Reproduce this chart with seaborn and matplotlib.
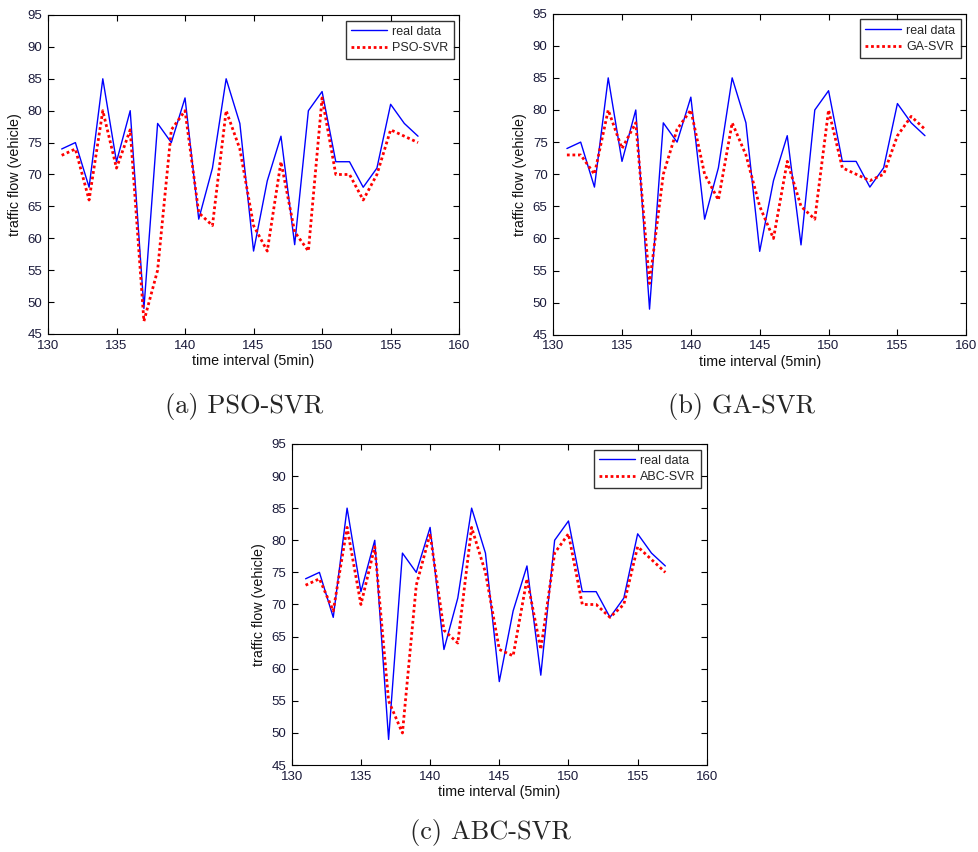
import numpy as np
import pandas as pd
import matplotlib
matplotlib.use("Agg")
import matplotlib.pyplot as plt
import seaborn as sns

# ---- data ----
time_interval = [131, 132, 133, 134, 135, 136, 137, 138, 139, 140, 141, 142, 143, 144,
                 145, 146, 147, 148, 149, 150, 151, 152, 153, 154, 155, 156, 157]
real_data = [74, 75, 68, 85, 72, 80, 49, 78, 75, 82, 63, 71, 85, 78,
             58, 69, 76, 59, 80, 83, 72, 72, 68, 71, 81, 78, 76]
pso_svr = [73, 74, 66, 80, 71, 77, 47, 55, 77, 80, 64, 62, 80, 74,
           62, 58, 72, 61, 58, 82, 70, 70, 66, 70, 77, 76, 75]
ga_svr = [73, 73, 70, 80, 74, 78, 53, 70, 77, 80, 70, 66, 78, 73,
          65, 60, 72, 65, 63, 80, 71, 70, 69, 70, 76, 79, 77]
abc_svr = [73, 74, 69, 82, 70, 79, 55, 50, 73, 81, 66, 64, 82, 75,
           63, 62, 74, 63, 78, 81, 70, 70, 68, 70, 79, 77, 75]

model_names = ["PSO-SVR", "GA-SVR", "ABC-SVR"]
captions = ["(a) PSO-SVR", "(b) GA-SVR", "(c) ABC-SVR"]
x_ticks = [130, 135, 140, 145, 150, 155, 160]
y_ticks = [45, 50, 55, 60, 65, 70, 75, 80, 85, 90, 95]

sns.set_theme(style="white")
plt.rcParams['font.family'] = ['Liberation Sans', 'DejaVu Sans']

fig = plt.figure(figsize=(9.79, 8.52), dpi=100)

axes_rects = [
    [0.049, 0.608, 0.420, 0.3744],
    [0.565, 0.607, 0.422, 0.377],
    [0.298, 0.102, 0.424, 0.377],
]
caption_pos = [(244 / 979, 1 - 406 / 852), (742 / 979, 1 - 406 / 852), (490 / 979, 1 - 833 / 852)]
preds = [pso_svr, ga_svr, abc_svr]

for rect, name, pred, cap, cpos in zip(axes_rects, model_names, preds, captions, caption_pos):
    ax = fig.add_axes(rect)
    df = pd.DataFrame({"t": time_interval, "real": real_data, "pred": pred})
    sns.lineplot(data=df, x="t", y="real", ax=ax, color="#0000ff", linewidth=1.0,
                 label="real data")
    sns.lineplot(data=df, x="t", y="pred", ax=ax, color="#ff0000", linewidth=2.0,
                 linestyle=(0, (1, 1)), label=name)
    ax.set_xlim(130, 160)
    ax.set_ylim(45, 95)
    ax.set_xticks(x_ticks)
    ax.set_yticks(y_ticks)
    ax.tick_params(direction="in", length=4, width=0.8, top=True, right=True,
                   bottom=True, left=True, labelsize=9.5, labelcolor="#1a1a3a",
                   color="black", pad=4)
    for s in ax.spines.values():
        s.set_color("black")
        s.set_linewidth(0.8)
    ax.set_xlabel("time interval (5min)", fontsize=10.3, labelpad=2, color="#111111")
    ax.set_ylabel("traffic flow (vehicle)", fontsize=10.3, labelpad=4, color="#111111")
    leg = ax.legend(loc="upper right", fontsize=9, frameon=True, fancybox=False,
                    edgecolor="black", borderpad=0.42, handlelength=2.9,
                    handletextpad=0.4, labelspacing=0.35, borderaxespad=0.45)
    leg.get_frame().set_linewidth(1.0)
    fig.text(cpos[0], cpos[1], cap, ha="center", va="center", fontsize=19,
             family=["cmr10", "DejaVu Serif"])

fig.savefig("out.png", dpi=100)
